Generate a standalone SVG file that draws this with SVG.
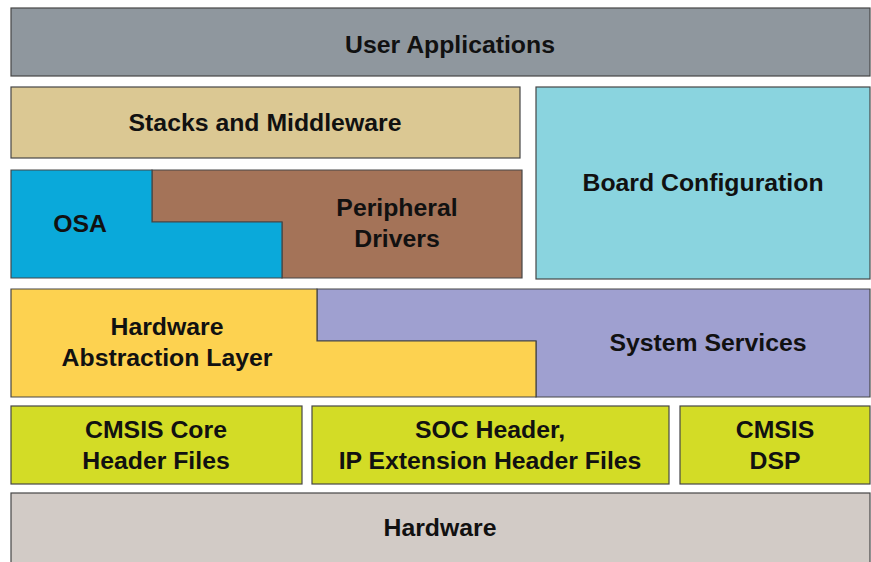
<svg xmlns="http://www.w3.org/2000/svg" width="871" height="562" viewBox="0 0 871 562">
<style>
.b{stroke:#464646;stroke-width:1.2}
text{font-family:"Liberation Sans",Arial,sans-serif;font-size:24.8px;font-weight:bold;fill:#111;text-anchor:middle}
</style>
<rect width="871" height="562" fill="#fff"/>
<g id="user-applications"><rect class="b" x="11" y="8" width="859" height="68" fill="#8f979e"/><text x="450" y="53">User Applications</text></g>
<g id="stacks"><rect class="b" x="11" y="87" width="509" height="71" fill="#dbc893"/><text x="265" y="131">Stacks and Middleware</text></g>
<g id="peripheral-drivers"><path class="b" d="M152 170H522V278H282V222H152Z" fill="#a47358"/><text x="397" y="216">Peripheral</text><text x="397" y="247">Drivers</text></g>
<g id="osa"><path class="b" d="M11 170H152V222H282V278H11Z" fill="#0aa9da"/><text x="80" y="232">OSA</text></g>
<g id="board-configuration"><rect class="b" x="536" y="87" width="334" height="192" fill="#8ad4df"/><text x="703" y="191">Board Configuration</text></g>
<g id="system-services"><path class="b" d="M317 289H870V397H536V341H317Z" fill="#9fa0d0"/><text x="708" y="351">System Services</text></g>
<g id="hal"><path class="b" d="M11 289H317V341H536V397H11Z" fill="#fdd250"/><text x="167" y="335">Hardware</text><text x="167" y="366">Abstraction Layer</text></g>
<g id="cmsis-core"><rect class="b" x="11" y="406" width="291" height="78" fill="#d3dc26"/><text x="156" y="438">CMSIS Core</text><text x="156" y="469">Header Files</text></g>
<g id="soc-header"><rect class="b" x="312" y="406" width="357" height="78" fill="#d3dc26"/><text x="490" y="438">SOC Header,</text><text x="490" y="469">IP Extension Header Files</text></g>
<g id="cmsis-dsp"><rect class="b" x="680" y="406" width="190" height="78" fill="#d3dc26"/><text x="775" y="438">CMSIS</text><text x="775" y="469">DSP</text></g>
<g id="hardware"><rect class="b" x="11" y="493" width="859" height="72" fill="#d2cbc6"/><text x="440" y="536">Hardware</text></g>
<g id="connectors"></g>
</svg>
